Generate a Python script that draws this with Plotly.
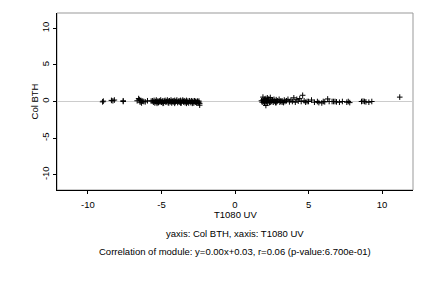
import plotly.graph_objects as go

# Left cluster
x_left = [-9.0, -8.95, -8.4, -8.3, -8.2, -7.6, -7.6,
          -6.65, -6.55, -6.5, -6.45, -6.4, -6.35, -6.3, -6.2, -6.1, -5.95,
          -5.7, -5.6, -5.55, -5.5, -5.45, -5.4, -5.35, -5.3, -5.25, -5.2, -5.15, -5.1,
          -5.05, -5.0, -4.95, -4.9, -4.85, -4.8, -4.75, -4.7, -4.65, -4.6, -4.55, -4.5,
          -4.45, -4.4, -4.35, -4.3, -4.25, -4.2, -4.15, -4.1, -4.05, -4.0, -3.95, -3.9,
          -3.85, -3.8, -3.75, -3.7, -3.65, -3.6, -3.55, -3.5, -3.45, -3.4, -3.35, -3.3,
          -3.25, -3.2, -3.15, -3.1, -3.05, -3.0, -2.95, -2.9, -2.85, -2.8, -2.75, -2.7,
          -2.65, -2.6, -2.55, -2.5, -2.45, -2.4, -2.4, -2.45, -5.3, -4.9, -4.5, -4.1,
          -3.7, -3.3, -2.9, -2.6, -5.1, -4.3, -3.5, -2.7]
y_left = [-0.05, 0.05, 0.15, 0.1, 0.2, 0.0, 0.1,
          0.1, 0.4, 0.25, -0.1, 0.15, -0.2, 0.05, 0.0, -0.05, 0.1,
          0.05, 0.1, -0.1, 0.15, -0.2, 0.0, 0.2, -0.1, 0.05, -0.15, 0.1, -0.05,
          0.2, -0.1, 0.0, 0.1, -0.2, 0.05, 0.15, -0.1, 0.0, 0.2, -0.15, 0.05,
          0.1, -0.05, 0.2, -0.2, 0.0, 0.1, -0.1, 0.15, -0.05, 0.05, 0.2, -0.15,
          0.0, 0.1, -0.1, 0.15, -0.2, 0.05, 0.2, -0.05, 0.1, -0.15, 0.0, 0.15,
          -0.1, 0.05, -0.2, 0.1, 0.0, -0.15, 0.1, -0.05, 0.05, -0.2, 0.1, -0.1,
          0.0, -0.15, 0.05, -0.1, -0.2, -0.25, -0.5, 0.05, -0.25, -0.25, -0.2, -0.25,
          -0.2, -0.25, -0.25, -0.2, 0.0, 0.0, 0.0, 0.0]

# Right cluster
x_right = [1.8, 1.85, 1.9, 1.9, 1.95, 2.0, 2.0, 2.05, 2.1, 2.1, 2.15, 2.2, 2.2, 2.25,
           2.3, 2.3, 2.35, 2.4, 2.45, 2.5, 2.55, 2.6, 2.65, 2.7, 2.75, 2.8, 2.85, 2.9,
           3.0, 3.05, 3.1, 3.2, 3.3, 3.35, 3.4, 3.5, 3.6, 3.7, 3.8, 3.9, 4.0, 4.1, 4.2,
           4.3, 4.4, 4.5, 4.6, 4.7, 4.8, 4.9, 5.0, 5.2, 5.4, 5.6, 5.7, 5.9, 6.0, 6.1,
           6.3, 6.4, 6.6, 6.7, 6.8, 6.9, 7.1, 7.3, 7.6, 7.7, 7.8,
           8.6, 8.7, 8.8, 8.9, 9.1, 9.3, 11.2, 2.0, 2.4, 2.8, 3.2]
y_right = [0.1, -0.1, 0.6, 0.2, 0.0, 0.3, -0.2, 0.1, -0.55, 0.4, 0.0, 0.5, -0.1, 0.2,
           0.0, 0.35, -0.15, 0.55, 0.1, 0.0, 0.2, -0.1, 0.3, 0.05, -0.15, 0.25, 0.0, 0.1,
           0.3, -0.1, 0.05, 0.1, -0.15, 0.2, 0.0, 0.1, 0.3, -0.05, 0.2, 0.0, 0.5, -0.1,
           0.3, 0.05, 0.4, 0.0, 0.85, 0.1, -0.1, 0.0, 0.0, 0.2, -0.1, 0.0, -0.15, -0.2,
           0.0, -0.05, 0.35, 0.0, 0.0, 0.0, 0.0, -0.05, -0.1, 0.0, -0.1, 0.0, -0.15,
           0.0, 0.05, 0.0, -0.05, -0.1, 0.0, 0.6, -0.1, -0.1, -0.15, -0.1]

x_vals = x_left + x_right
y_vals = y_left + y_right

x_ticks = [-10, -5, 0, 5, 10]
y_ticks = [-10, -5, 0, 5, 10]

font_family = "Liberation Sans, Arial, sans-serif"
fs = 9.5

fig = go.Figure()
fig.add_trace(go.Scatter(
    x=x_vals, y=y_vals, mode="markers",
    marker=dict(symbol="cross-thin", size=4, line=dict(width=1, color="black"), color="black"),
    showlegend=False, hoverinfo="skip",
))

fig.update_layout(
    width=432, height=288,
    margin=dict(l=57, r=19, t=13, b=98),
    paper_bgcolor="white", plot_bgcolor="white",
    font=dict(family=font_family, size=fs, color="black"),
    xaxis=dict(range=[-12.1, 12.1], tickvals=x_ticks, ticktext=[str(v) for v in x_ticks],
               showgrid=False, zeroline=False, showline=True, linecolor="black", linewidth=1,
               ticks="outside", ticklen=3, tickcolor="black", tickfont=dict(size=fs),
               ticklabelstandoff=3),
    yaxis=dict(range=[-12.1, 12.1], tickvals=y_ticks, ticktext=[str(v) for v in y_ticks],
               showgrid=False, zeroline=True, zerolinecolor="#cccccc", zerolinewidth=1,
               showline=True, linecolor="black", linewidth=1,
               ticks="outside", ticklen=3, tickcolor="black", tickangle=-90, tickfont=dict(size=fs)),
    shapes=[dict(type="rect", xref="paper", yref="paper", x0=0, x1=1, y0=0, y1=1,
                 line=dict(color="#999999", width=1), layer="below")],
    annotations=[
        dict(text="T1080 UV", xref="paper", yref="paper", x=0.5, y=-0.141, yanchor="middle",
             showarrow=False, font=dict(size=fs)),
        dict(text="yaxis: Col BTH, xaxis: T1080 UV", xref="paper", yref="paper", x=0.5, y=-0.243,
             yanchor="middle", showarrow=False, font=dict(size=fs)),
        dict(text="Correlation of module: y=0.00x+0.03, r=0.06 (p-value:6.700e-01)",
             xref="paper", yref="paper", x=0.5, y=-0.345, yanchor="middle", showarrow=False,
             font=dict(size=fs)),
        dict(text="Col BTH", xref="paper", yref="paper", x=-0.062, y=0.5, xanchor="center",
             yanchor="middle", textangle=-90, showarrow=False, font=dict(size=fs)),
    ],
)

fig.write_html("out.html")
